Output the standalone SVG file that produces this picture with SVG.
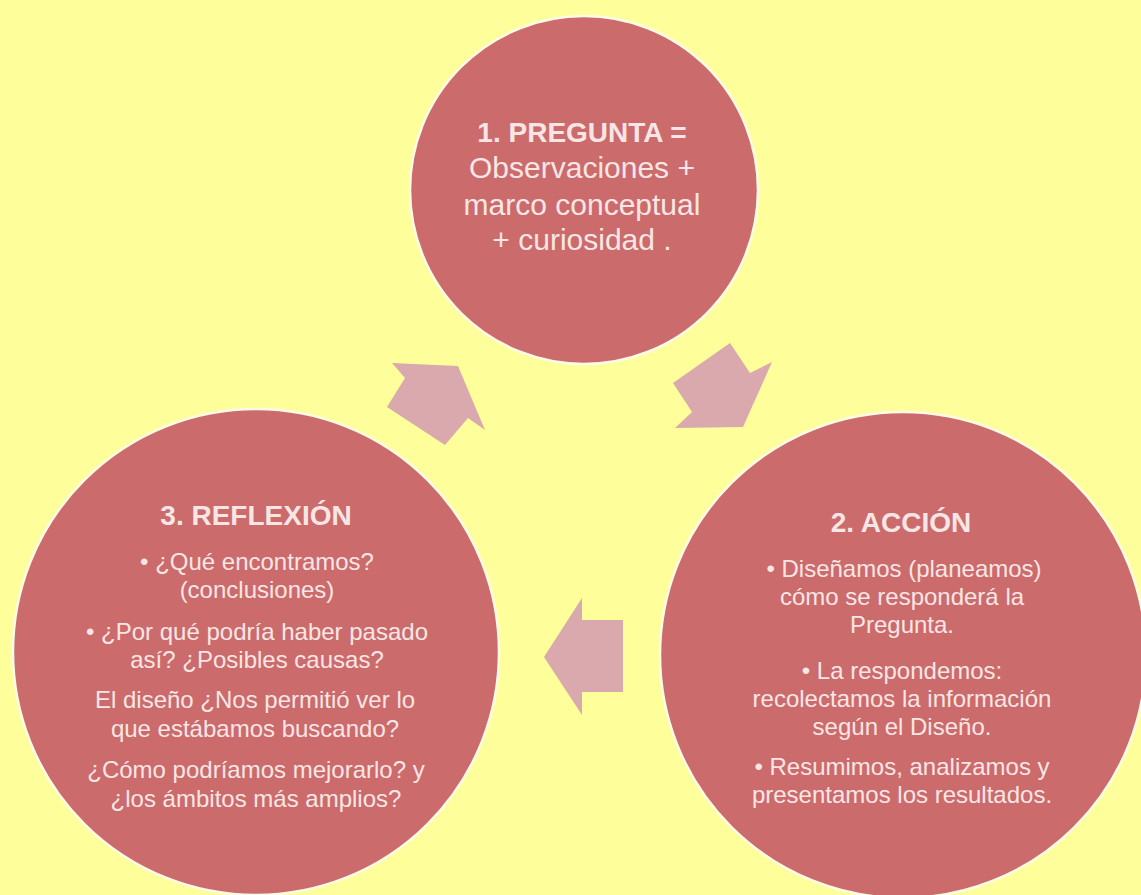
<svg xmlns="http://www.w3.org/2000/svg" width="1141" height="895" viewBox="0 0 1141 895">
<style>
.bg{fill:#fefe9b}
.node{fill:#cc6b6b;stroke:#fffbe6;stroke-width:2.5}
.arrow{fill:#d9a9ad}
text{font-family:"Liberation Sans",Arial,sans-serif;fill:#f8e6e6;text-anchor:middle}
.title{font-weight:bold;font-size:28px}
.big{font-size:30px}
.body{font-size:24px}
</style>
<rect class="bg" x="0" y="0" width="1141" height="895"/>
<g id="connectors">
<polygon class="arrow" points="458,366 485,430 468,418 445,445 387,407 405,378 392,363"/>
<polygon class="arrow" points="730,343 750,373 772,362 743,427 675,428 692,412 673,383"/>
<polygon class="arrow" points="544,657 582,598 582,620 623,620 623,692 582,692 582,715"/>
</g>
<g id="node-pregunta">
<circle class="node" cx="584" cy="190" r="174"/>
<text class="title" x="582" y="142">1. PREGUNTA =</text>
<text class="big" x="582" y="178">Observaciones +</text>
<text class="big" x="582" y="215">marco conceptual</text>
<text class="big" x="582" y="250">+ curiosidad .</text>
</g>
<g id="node-accion">
<circle class="node" cx="903" cy="655" r="243"/>
<text class="title" x="901" y="532">2. ACCIÓN</text>
<text class="body" x="904" y="577">• Diseñamos (planeamos)</text>
<text class="body" x="902" y="605">cómo se responderá la</text>
<text class="body" x="902" y="633">Pregunta.</text>
<text class="body" x="902" y="679">• La respondemos:</text>
<text class="body" x="902" y="707">recolectamos la información</text>
<text class="body" x="902" y="735">según el Diseño.</text>
<text class="body" x="902" y="775">• Resumimos, analizamos y</text>
<text class="body" x="902" y="803">presentamos los resultados.</text>
</g>
<g id="node-reflexion">
<circle class="node" cx="256" cy="652" r="243"/>
<text class="title" x="256" y="525">3. REFLEXIÓN</text>
<text class="body" x="257" y="570">• ¿Qué encontramos?</text>
<text class="body" x="257" y="598">(conclusiones)</text>
<text class="body" x="257" y="640">• ¿Por qué podría haber pasado</text>
<text class="body" x="257" y="668">así? ¿Posibles causas?</text>
<text class="body" x="255" y="708">El diseño ¿Nos permitió ver lo</text>
<text class="body" x="255" y="737">que estábamos buscando?</text>
<text class="body" x="256" y="778">¿Cómo podríamos mejorarlo? y</text>
<text class="body" x="256" y="807">¿los ámbitos más amplios?</text>
</g>
</svg>
